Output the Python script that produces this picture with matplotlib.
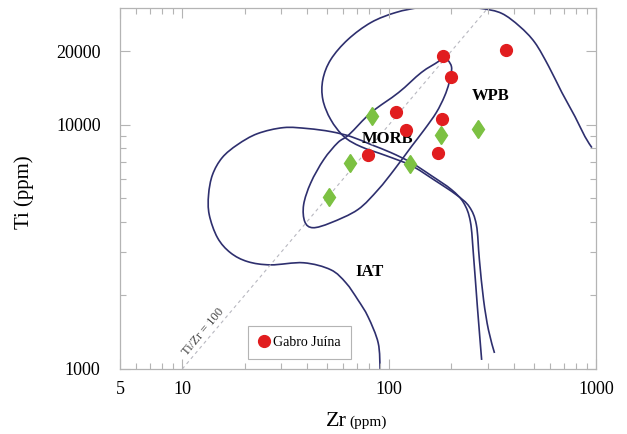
import matplotlib
matplotlib.use('Agg')
import matplotlib.pyplot as plt
import numpy as np
from matplotlib.path import Path
from matplotlib.patches import PathPatch
from matplotlib.ticker import FixedLocator, FixedFormatter, NullFormatter

# fonte serifada (tipo Times)
plt.rcParams['font.family'] = ['Liberation Serif', 'DejaVu Serif']

# amostras - Gabro Juina (circulos vermelhos)
gabro_zr = [183, 366, 198, 108, 181, 120, 79, 173]
gabro_ti = [19000, 20100, 15700, 11300, 10500, 9540, 7540, 7680]

# amostras sem legenda (losangos verdes)
outras_zr = [82.6, 179, 270, 64.7, 126, 51.2]
outras_ti = [10800, 9100, 9630, 6980, 6920, 5070]

# limites dos campos (Zr, Ti em ppm)
iat_zr = [90.4, 88.5, 79.1, 70.6, 61.8, 52.2, 38.6, 26.7, 20.7, 17.1, 14.8, 13.5,
          13.4, 14.0, 15.6, 18.5, 23.1, 30.9, 40.5, 52.2, 65.4, 81.8, 102, 128,
          160, 200, 229, 247, 256, 267, 280]
iat_ti = [1000, 1279, 1634, 1919, 2252, 2547, 2720, 2667, 2750, 2989, 3443, 4277,
          5164, 6237, 7328, 8280, 9183, 9720, 9630, 9360, 8930, 8280, 7680, 6985,
          6180, 5420, 4790, 4005, 2877, 1795, 1089]

wpb_zr = [323, 302, 286, 273, 264, 244, 211, 164, 128, 96.6, 73.1, 60.5, 52.2,
          47.8, 47.8, 52.2, 63.2, 81.8, 108, 143, 211, 280, 350, 427, 506, 591,
          684, 791, 884, 955]
wpb_ti = [1163, 1445, 1919, 2800, 3890, 4613, 5164, 5957, 6795, 7464, 8120, 8930,
          10480, 12660, 15280, 18450, 22290, 26180, 28770, 30140, 30470, 29850,
          28510, 25240, 21670, 17290, 13520, 10790, 8930, 8050]

morb_zr = [183, 200, 195, 185, 169, 148, 128, 106, 88.5, 70.6, 52.2, 42.8, 39.1,
           38.6, 41.8, 48.3, 56.5, 64.0, 81.8, 111, 143, 173, 183]
morb_ti = [19000, 17290, 14870, 13030, 11200, 9540, 8120, 6550, 5420, 4490, 3965,
           3785, 4005, 4700, 5780, 7194, 8440, 9100, 11200, 13520, 16330, 18120, 19000]

# linha Ti/Zr = 100
razao_zr = [10, 300]
razao_ti = [1000, 30000]

# rotulos dos eixos
xticks = [5, 10, 100, 1000]
xtick_labels = ['5', '10', '100', '1000']
yticks = [1000, 10000, 20000]
ytick_labels = ['1000', '10000', '20000']

cor_linha = '#2e2f6e'
cor_eixo = '#b4b4b4'


# curva suave (bezier tipo Catmull-Rom) passando pelos pontos, em escala log
def curva_suave(xs, ys, fechada=False):
    p = np.log10(np.column_stack([xs, ys]).astype(float))
    if fechada:
        p = p[:-1]
        ext = np.vstack([p[-1], p, p[0], p[1]])
    else:
        ext = np.vstack([p[0], p, p[-1]])
    verts = [ext[1]]
    codes = [Path.MOVETO]
    for i in range(1, len(ext) - 2):
        p0, p1, p2, p3 = ext[i - 1], ext[i], ext[i + 1], ext[i + 2]
        verts += [p1 + (p2 - p0) / 6, p2 - (p3 - p1) / 6, p2]
        codes += [Path.CURVE4] * 3
    return Path(10 ** np.array(verts), codes)


fig = plt.figure(figsize=(6.27, 4.34), dpi=100)
ax = fig.add_axes([0.1914, 0.1498, 0.7592, 0.8318])

ax.set_xscale('log')
ax.set_yscale('log')
ax.set_xlim(5, 1000)
ax.set_ylim(1000, 30000)

# campos
for zr, ti, fech in [(iat_zr, iat_ti, False), (wpb_zr, wpb_ti, False), (morb_zr, morb_ti, True)]:
    ax.add_patch(PathPatch(curva_suave(zr, ti, fech), fill=False, edgecolor=cor_linha, lw=1.2))
ax.plot(razao_zr, razao_ti, color='#b8b8c0', lw=0.8, ls=(0, (3, 3)))

# pontos
ax.plot(outras_zr, outras_ti, 'd', ms=9.5, color='#7cc142', mec='#7cc142', zorder=5)
ax.plot(gabro_zr, gabro_ti, 'o', ms=8.5, color='#e11d1f', mec='#e11d1f', zorder=6,
        label='Gabro Juína')

# nomes dos campos
ax.text(97.8, 8763, 'MORB', fontsize=12, fontweight='bold', ha='center', va='center')
ax.text(309, 13030, 'WPB', fontsize=12, fontweight='bold', ha='center', va='center')
ax.text(80, 2498, 'IAT', fontsize=12, fontweight='bold', ha='center', va='center')
ax.text(12.6, 1420, 'Ti/Zr = 100', fontsize=9, color='#444444', rotation=50,
        ha='center', va='center')

# eixos
ax.xaxis.set_major_locator(FixedLocator(xticks))
ax.xaxis.set_major_formatter(FixedFormatter(xtick_labels))
ax.xaxis.set_minor_locator(FixedLocator([6, 7, 8, 9, 20, 30, 40, 50, 60, 70, 80, 90,
                                         200, 300, 400, 500, 600, 700, 800, 900]))
ax.xaxis.set_minor_formatter(NullFormatter())
ax.yaxis.set_major_locator(FixedLocator(yticks))
ax.yaxis.set_major_formatter(FixedFormatter(ytick_labels))
ax.yaxis.set_minor_locator(FixedLocator([2000, 3000, 4000, 5000, 6000, 7000, 8000, 9000]))
ax.yaxis.set_minor_formatter(NullFormatter())

ax.tick_params(which='both', direction='in', top=True, right=True, color=cor_eixo,
               width=0.8, labelsize=13)
ax.tick_params(which='major', length=7)
ax.tick_params(which='minor', length=4)
ax.tick_params(axis='x', pad=9)
ax.tick_params(axis='y', pad=14)
for s in ax.spines.values():
    s.set_color(cor_eixo)
    s.set_linewidth(0.9)

# legenda
leg = ax.legend(loc='center', bbox_to_anchor=(0.377, 0.0734), fontsize=10,
                frameon=True, fancybox=False, framealpha=1, edgecolor=cor_eixo,
                handlelength=0.8, handletextpad=0.3, borderpad=0.7, borderaxespad=0)
leg.get_frame().set_linewidth(0.8)

# titulos dos eixos
fig.text(0.52, 0.0184, 'Zr', fontsize=16, ha='left', va='baseline')
fig.text(0.557, 0.0184, '(ppm)', fontsize=11, ha='left', va='baseline')
fig.text(0.038, 0.5576, 'Ti (ppm)', fontsize=15, rotation=90, ha='center', va='center')

fig.savefig('out.png', dpi=100)
